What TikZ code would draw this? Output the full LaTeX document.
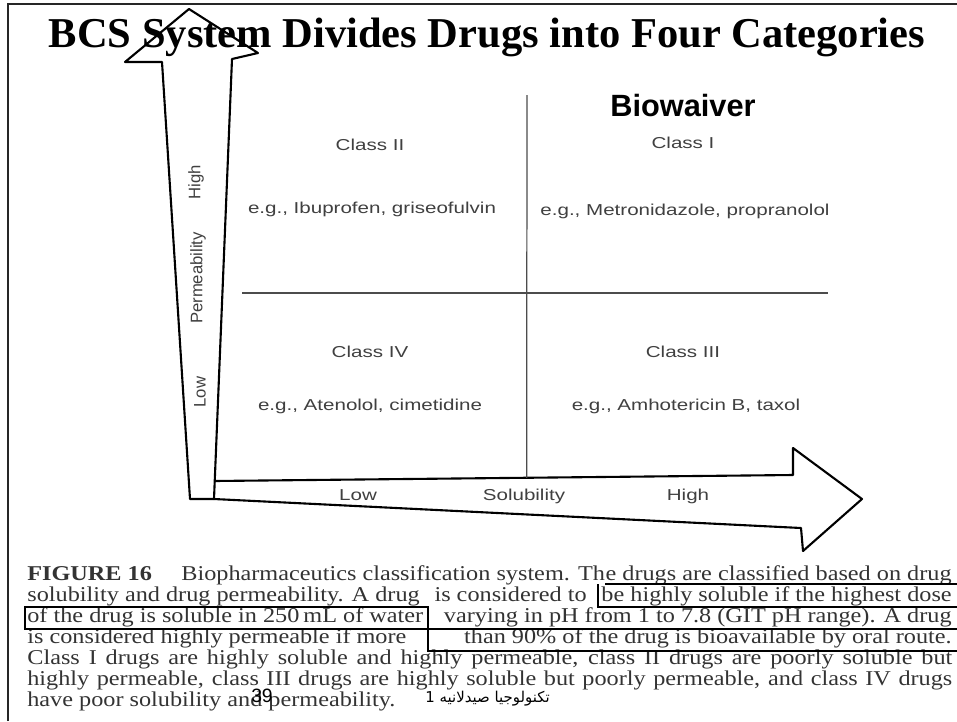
\documentclass[tikz,border=0pt]{standalone}
\usepackage{fontspec}
\usepackage{graphicx}
\setmainfont{Liberation Serif}
\newfontfamily\arialfont{Liberation Sans}
\newfontfamily\arabicfont[Script=Arabic]{DejaVu Sans}
\usetikzlibrary{calc}
\TeXXeTstate=1
\newcommand{\figwide}[1]{\scalebox{1.3}[1]{#1}}
\newcommand{\capwide}[1]{\scalebox{1.15}[1]{#1}}

\begin{document}
\begin{tikzpicture}[x=0.02cm, y=-0.02cm,
    fig_text/.style={inner sep=0, anchor=base, text=black!75, font=\arialfont\fontsize{9}{10}\selectfont},
    axis_text/.style={inner sep=0, text=black!75, font=\arialfont\fontsize{9.5}{10}\selectfont, rotate=90},
    cap_text/.style={inner sep=0, text=black!80, font=\fontsize{12}{12}\selectfont},
    arrow_outline/.style={draw=black, line width=1.2pt, line join=round, fill=white},
    divider/.style={draw=black!70, line width=0.7pt},
    mark_line/.style={draw=black, line width=1.3pt}]

    \useasboundingbox[fill=white] (0,0) rectangle (957,721);
    % Slide frame
    \draw[black!85, line width=1.1pt] (8,721) -- (8,4) -- (957,4);

    % Solubility arrow
    \coordinate (hs_tl) at (214,481);
    \coordinate (hs_tr) at (793,475);
    \coordinate (hh_t) at (793,448);
    \coordinate (htip) at (862,499);
    \coordinate (hh_b) at (803,551);
    \coordinate (hs_br) at (801,528);
    \coordinate (hs_bl) at (214,499);
    \path[arrow_outline] (hs_tl) -- (hs_tr) -- (hh_t) -- (htip) -- (hh_b) -- (hs_br) -- (hs_bl);

    % Permeability arrow
    \coordinate (vtip) at (189,9);
    \coordinate (vh_r) at (258,53);
    \coordinate (vs_tr) at (232,59);
    \coordinate (vs_br) at (214,499);
    \coordinate (vs_bl) at (190,499);
    \coordinate (vs_tl) at (162,62);
    \coordinate (vh_l) at (125,62);
    \path[arrow_outline] (vtip) -- (vh_r) -- (vs_tr) -- (vs_br) -- (vs_bl) -- (vs_tl) -- (vh_l) -- cycle;

    % Quadrant lines
    \coordinate (div_top) at (527,95);
    \coordinate (div_bot) at ($(hs_tl)!0.540!(hs_tr)$);
    \coordinate (div_left) at (242,293);
    \coordinate (div_right) at (828,293);
    \draw[divider] (div_top) -- (div_bot);
    \draw[divider] (div_left) -- (div_right);

    % Title
    \node[inner sep=0, anchor=base, font=\bfseries\fontsize{24.2}{29}\selectfont] (title) at (487,47) {BCS System Divides Drugs into Four Categories};
    \node[inner sep=0, anchor=base, font=\arialfont\bfseries\fontsize{17.5}{20}\selectfont] (biowaiver) at (683,116) {Biowaiver};

    % Classes
    \node[fig_text] (class2) at (370,150) {\figwide{Class II}};
    \node[fig_text] (ex2) at (372,213) {\figwide{e.g., Ibuprofen, griseofulvin}};
    \node[fig_text] (class1) at (683,148) {\figwide{Class I}};
    \node[fig_text] (ex1) at (685,215) {\figwide{e.g., Metronidazole, propranolol}};
    \node[fig_text] (class4) at (370,357) {\figwide{Class IV}};
    \node[fig_text] (ex4) at (370,410) {\figwide{e.g., Atenolol, cimetidine}};
    \node[fig_text] (class3) at (683,357) {\figwide{Class III}};
    \node[fig_text] (ex3) at (686,410) {\figwide{e.g., Amhotericin B, taxol}};

    % Axis labels
    \node[axis_text] (perm_high) at (196,182) {High};
    \node[axis_text] (perm_lbl) at (198,278) {Permeability};
    \node[axis_text] (perm_low) at (200,392) {Low};
    \node[fig_text] (sol_low) at (358,500) {\figwide{Low}};
    \node[fig_text] (sol_lbl) at (524,500) {\figwide{Solubility}};
    \node[fig_text] (sol_high) at (688,500) {\figwide{High}};

    % Caption
    \node[cap_text, anchor=base west] (cap1a) at (27,580) {\capwide{\textbf{FIGURE 16}}};
    \node[cap_text, anchor=base east] (cap1c) at (952,580) {\capwide{e drugs are classified based on drug}};
    \node[cap_text, anchor=base east] (cap1b) at (cap1c.base west) {\capwide{Biopharmaceutics classification system. Th}};
    \node[cap_text, anchor=base west] (cap2a) at (27,601) {\capwide{solubility and drug permeability. A drug}};
    \node[cap_text, anchor=base east] (cap2c) at (952,601) {\capwide{be highly soluble if the highest dose}};
    \node[cap_text, anchor=base] (cap2b) at ($(cap2a.base east)!0.5!(cap2c.base west)$) {\capwide{is considered to}};
    \node[cap_text, anchor=base west] (cap3a) at (27,622) {\capwide{of the drug is soluble in 250\,mL of water}};
    \node[cap_text, anchor=base east] (cap3b) at (952,622) {\capwide{varying in pH from 1 to 7.8 (GIT pH range). A drug}};
    \node[cap_text, anchor=base west] (cap4a) at (27,643) {\capwide{is considered highly permeable if more}};
    \node[cap_text, anchor=base east] (cap4b) at (952,643) {\capwide{than 90\% of the drug is bioavailable by oral route.}};
    \node[cap_text, anchor=base west] (cap5) at (27,664) {\capwide{\makebox[16.09cm][s]{Class I drugs are highly soluble and highly permeable, class II drugs are poorly soluble but}}};
    \node[cap_text, anchor=base west] (cap6) at (27,685) {\capwide{\makebox[16.09cm][s]{highly permeable, class III drugs are highly soluble but poorly permeable, and class IV drugs}}};
    \node[cap_text, anchor=base west] (cap7) at (27,706) {\capwide{have poor solubility and permeability.}};

    % Highlight boxes
    \coordinate (box_mid) at ($(cap3a.base east)+(4,0)$);
    \draw[mark_line] ($(cap1c.base west)+(0,4)$) -- (957,584);
    \draw[mark_line] ($(cap2c.base west)+(-3,-17)$) |- (957,607);
    \draw[mark_line] ($(cap3a.base west)+(-2,-15)$) rectangle (box_mid |- 0,629);
    \draw[mark_line] (957,629) -- (box_mid |- 0,629) -- (box_mid |- 0,651) -- (957,651);

    % Footer
    \node[inner sep=0, anchor=base, font=\arialfont\fontsize{11}{12}\selectfont] (page_no) at (262,702) {39};
    \node[inner sep=0, anchor=base west, font=\arabicfont\fontsize{8.5}{10}\selectfont] (footer_ar) at (425,702) {\beginR تكنولوجيا صيدلانيه 1\endR};
\end{tikzpicture}
\end{document}
